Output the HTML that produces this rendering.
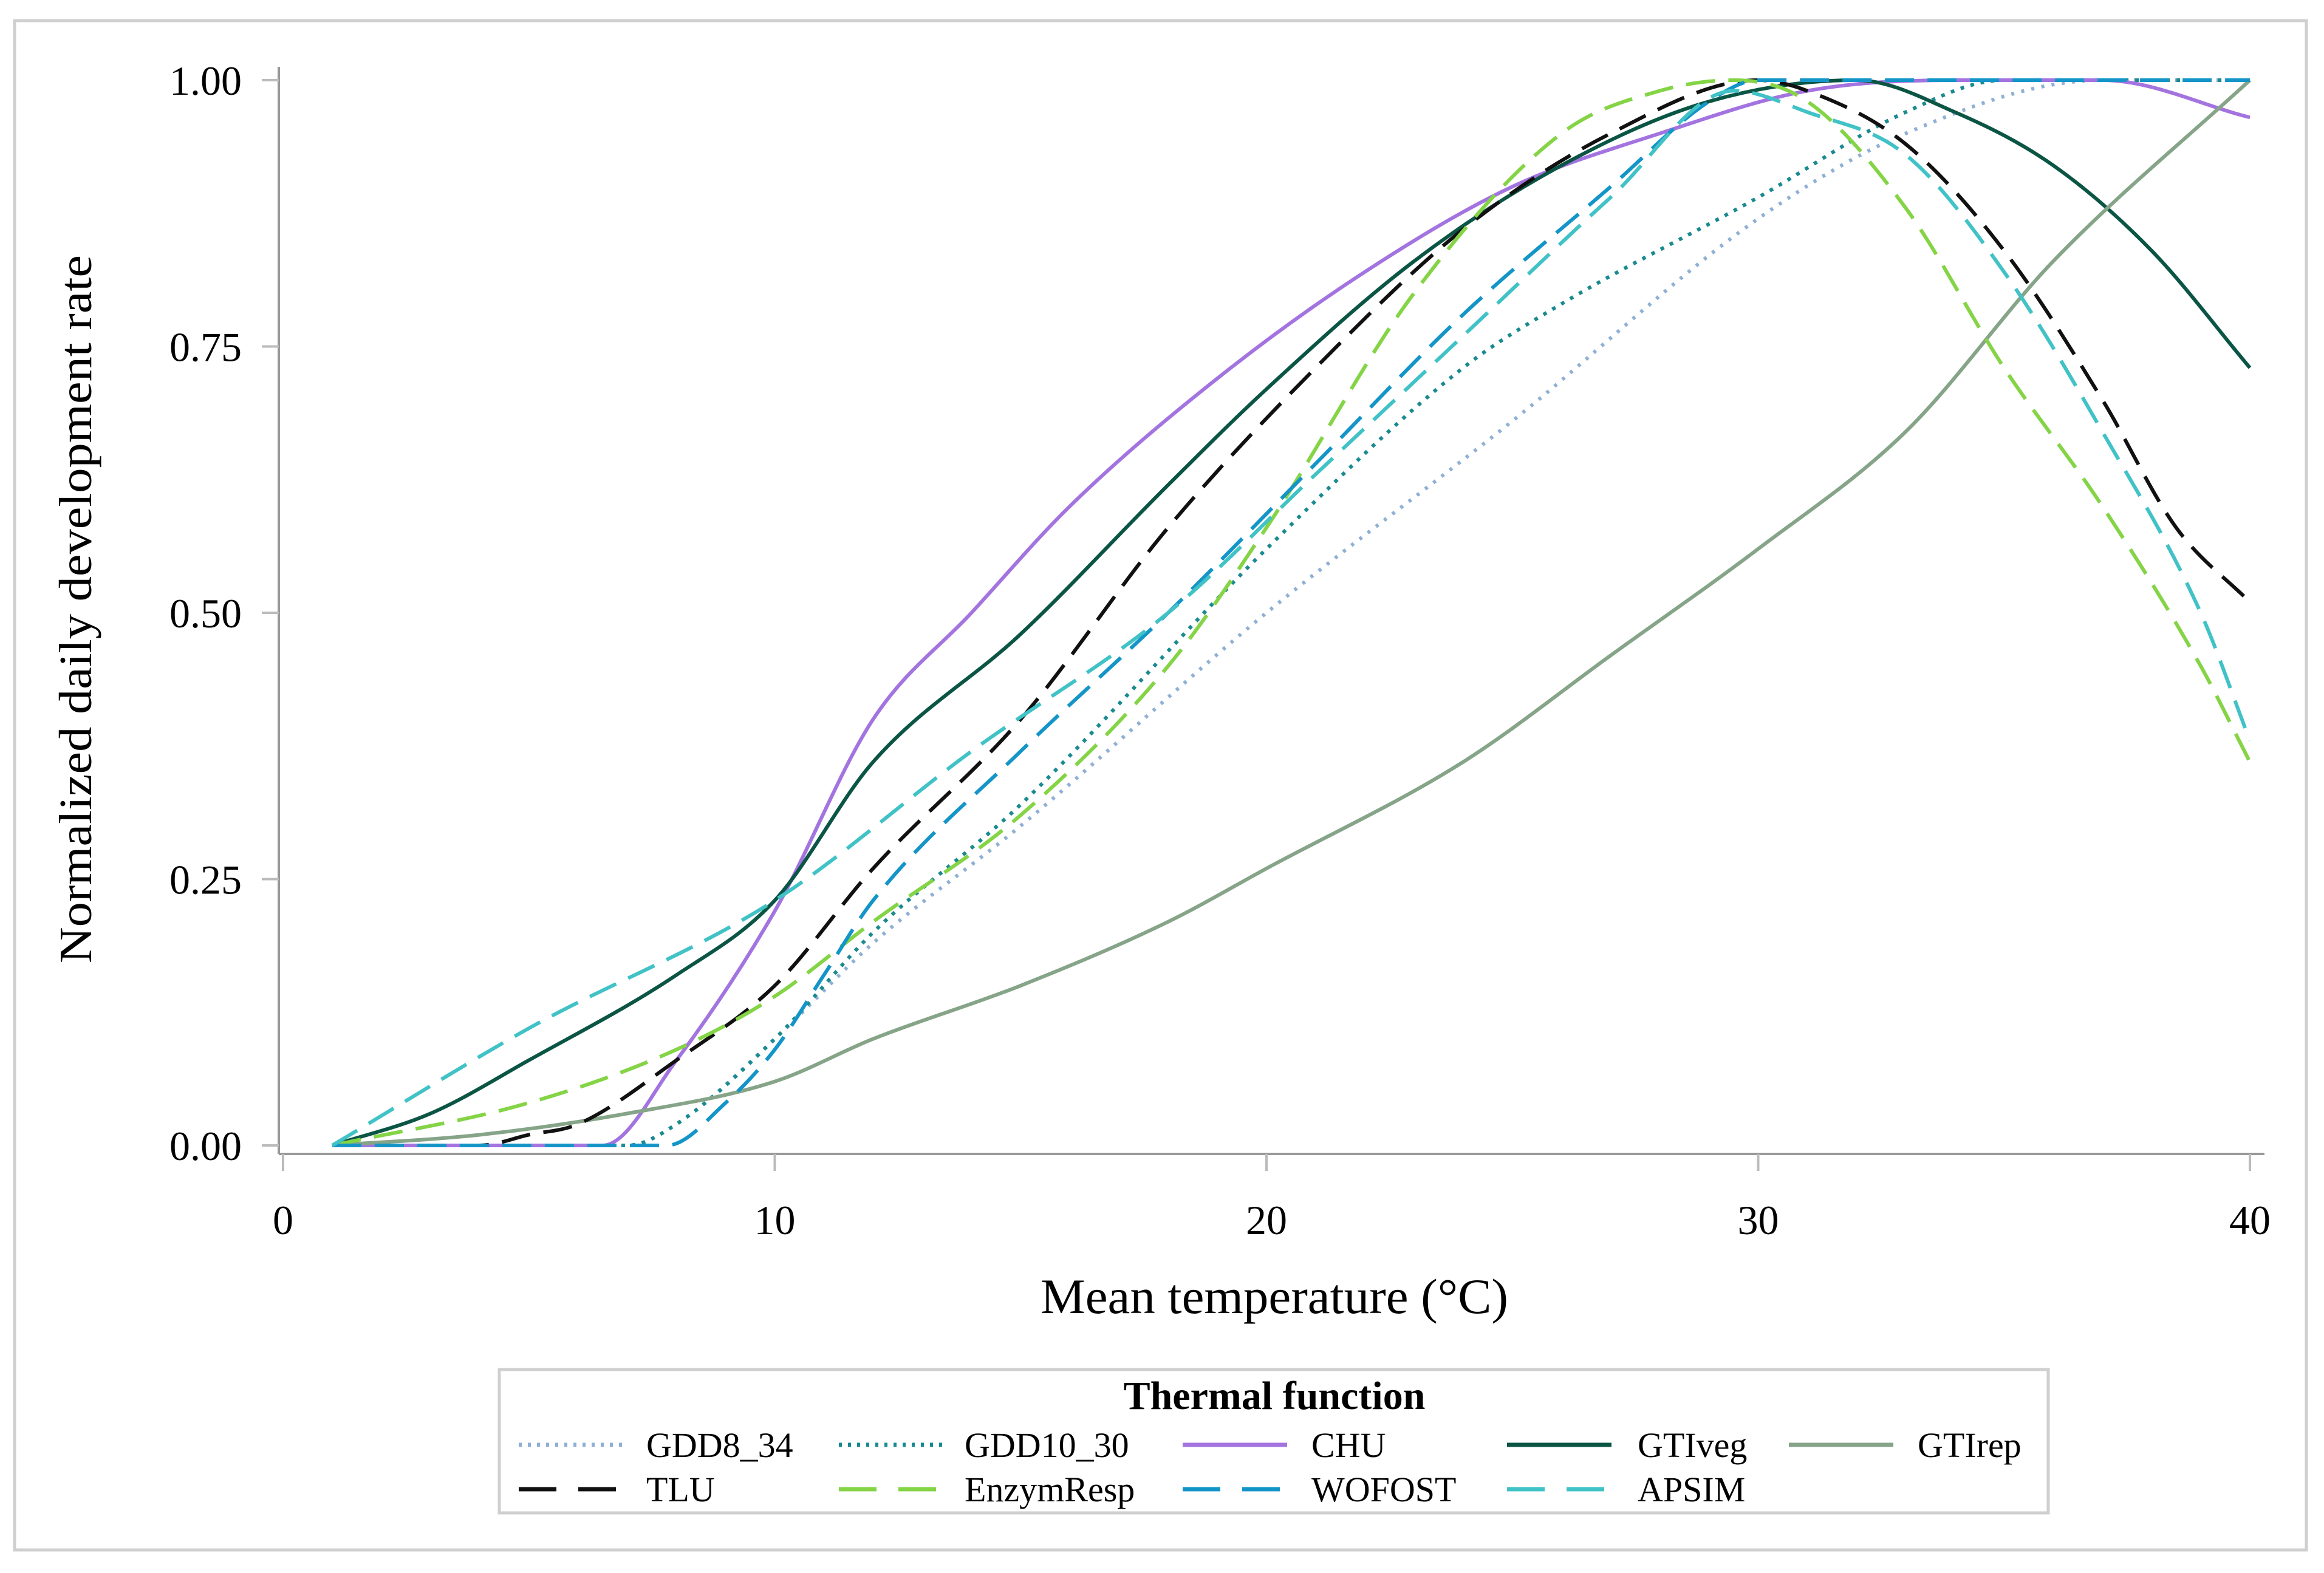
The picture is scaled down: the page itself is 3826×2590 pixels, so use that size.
<!DOCTYPE html>
<html><head><meta charset="utf-8"><style>
html,body{margin:0;padding:0;background:#fff;}
svg{display:block;font-family:"Liberation Serif",serif;}
</style></head><body>
<svg id="chart" width="3826" height="2590" viewBox="0 0 3826 2590" xmlns="http://www.w3.org/2000/svg">
<rect x="24" y="34" width="3773" height="2518" fill="#fff" stroke="#cfcfcf" stroke-width="5"/>
<g id="axes"></g>
<g id="series"></g>
<text x="2098" y="2162" font-size="82" text-anchor="middle" textLength="770" lengthAdjust="spacingAndGlyphs">Mean temperature (°C)</text>
<text transform="translate(150,1003) rotate(-90)" font-size="76" text-anchor="middle" textLength="1166" lengthAdjust="spacingAndGlyphs">Normalized daily development rate</text>
<g id="legend">
<rect x="822" y="2255" width="2550" height="236" fill="#fff" stroke="#cfcfcf" stroke-width="5"/>
<text x="2098" y="2320" font-size="66" font-weight="bold" text-anchor="middle">Thermal function</text>
</g>
</svg>
<script>
const xTicks = [0, 10, 20, 30, 40];
const yTicks = [0, 0.25, 0.5, 0.75, 1.0];
const yTickLabels = ["0.00", "0.25", "0.50", "0.75", "1.00"];
const seriesNames = ["GDD8_34","GDD10_30","CHU","GTIveg","GTIrep","TLU","EnzymResp","WOFOST","APSIM"];
const tGDD8 = [1,7,8,10,12,15,20,25,30,33,37,40];
const vGDD8 = [0,0,0.02,0.1,0.19,0.3,0.5,0.68,0.87,0.95,1.0,1.0];
const tGDD10 = [1,7,8,10,12,15,20,24,26,30,33,35,40];
const vGDD10 = [0,0,0.02,0.1,0.2,0.32,0.56,0.73,0.79,0.89,0.97,1.0,1.0];
const tCHU = [1,6.5,8,10,12,14,16,19,22,25,28,31,34,37,40];
const vCHU = [0,0,0.08,0.22,0.4,0.5,0.6,0.72,0.82,0.9,0.95,0.99,1.0,1.0,0.965];
const tGTIveg = [1,3,5,8,10,12,15,18,20,23,26,29,32,34,36,38,40];
const vGTIveg = [0,0.03,0.08,0.16,0.23,0.36,0.48,0.62,0.71,0.83,0.92,0.98,1.0,0.97,0.92,0.84,0.73];
const tGTIrep = [1,4,7,10,12,15,18,20,24,27,30,33,36,40];
const vGTIrep = [0,0.01,0.03,0.06,0.1,0.15,0.21,0.26,0.36,0.46,0.56,0.67,0.83,1.0];
const tTLU = [1,4,5,6,8,10,12,15,18,21,24,27,30,31,33,35,37,38.5,40];
const vTLU = [0,0,0.01,0.02,0.08,0.15,0.26,0.4,0.58,0.73,0.86,0.95,1.0,0.99,0.94,0.84,0.7,0.58,0.51];
const tEnzym = [1,5,8,10,12,15,18,20,23,26,28,29.5,31,33,35,37,39,40];
const vEnzym = [0,0.04,0.09,0.14,0.21,0.31,0.45,0.58,0.8,0.95,0.99,1.0,0.98,0.88,0.73,0.6,0.45,0.36];
const tWOFOST = [1,7.8,9,10,11,12,15,18,21,24,27,29,30,40];
const vWOFOST = [0,0,0.04,0.09,0.16,0.23,0.37,0.5,0.64,0.78,0.9,0.98,1.0,1.0];
const tAPSIM = [1,5,10,14,18,21,24,27,29.5,31,33,35,37,39,40];
const vAPSIM = [0,0.11,0.23,0.37,0.5,0.63,0.76,0.89,0.99,0.97,0.93,0.82,0.67,0.5,0.38];

const NS = "http://www.w3.org/2000/svg";
const X0 = 466, X1 = 3704, Y0 = 1886, Y1 = 132;
function xs(t){ return X0 + (t - 0) / 40 * (X1 - X0); }
function ys(v){ return Y0 - v * (Y0 - Y1); }
function mk(tag, attrs, parent){ const e = document.createElementNS(NS, tag); for (const k in attrs) e.setAttribute(k, attrs[k]); parent.appendChild(e); return e; }

const axes = document.getElementById('axes');
const yl = mk('line', {x1:459, y1:110, x2:459, y2:1900, stroke:'#999', 'stroke-width':4}, axes);


const xl = mk('line', {x1:459, y1:1900, x2:3728, y2:1900, stroke:'#999', 'stroke-width':4}, axes);


xTicks.forEach(function(t){
  const tk = mk('line', {x1:xs(t), y1:1900, x2:xs(t), y2:1928, stroke:'#bbb', 'stroke-width':4}, axes);
  
  
  const tx = mk('text', {x:xs(t), y:2032, 'font-size':68, 'text-anchor':'middle'}, axes);
  tx.textContent = String(t);
  
  
});
yTicks.forEach(function(v, i){
  const tk = mk('line', {x1:431, y1:ys(v), x2:459, y2:ys(v), stroke:'#bbb', 'stroke-width':4}, axes);
  
  
  const tx = mk('text', {x:398, y:ys(v) + 24, 'font-size':68, 'text-anchor':'end'}, axes);
  tx.textContent = yTickLabels[i];
  
  
});

const styles = [
  {t:tGDD8, v:vGDD8, c:'#8fb0d4', d:'5 12', key:'gdd8-34'},
  {t:tGDD10, v:vGDD10, c:'#1a8a90', d:'6 11', key:'gdd10-30'},
  {t:tCHU, v:vCHU, c:'#a374e0', d:'', key:'chu'},
  {t:tGTIveg, v:vGTIveg, c:'#0b5545', d:'', key:'gtiveg'},
  {t:tGTIrep, v:vGTIrep, c:'#86a488', d:'', key:'gtirep'},
  {t:tTLU, v:vTLU, c:'#111', d:'48 22', key:'tlu'},
  {t:tEnzym, v:vEnzym, c:'#84d446', d:'48 22', key:'enzymresp'},
  {t:tWOFOST, v:vWOFOST, c:'#1495c8', d:'48 22', key:'wofost'},
  {t:tAPSIM, v:vAPSIM, c:'#40c2c6', d:'48 22', key:'apsim'}
];
// monotone cubic (Fritsch-Carlson) to avoid overshoot
function smoothPath(t, v){
  const n = t.length;
  const px = t.map(xs), py = v.map(ys);
  const dl = [], m = new Array(n);
  for (let i = 0; i < n - 1; i++) dl.push((py[i+1]-py[i])/(px[i+1]-px[i]));
  m[0] = dl[0]; m[n-1] = dl[n-2];
  for (let i = 1; i < n - 1; i++){
    if (dl[i-1] * dl[i] <= 0) m[i] = 0;
    else m[i] = (dl[i-1] + dl[i]) / 2;
  }
  for (let i = 0; i < n - 1; i++){
    if (dl[i] === 0){ m[i] = 0; m[i+1] = 0; continue; }
    const a = m[i]/dl[i], b = m[i+1]/dl[i], s = a*a + b*b;
    if (s > 9){ const tau = 3/Math.sqrt(s); m[i] = tau*a*dl[i]; m[i+1] = tau*b*dl[i]; }
  }
  let d = 'M' + px[0] + ',' + py[0];
  for (let i = 0; i < n - 1; i++){
    const h = (px[i+1]-px[i])/3;
    d += ' C' + (px[i]+h) + ',' + (py[i]+m[i]*h) + ' ' + (px[i+1]-h) + ',' + (py[i+1]-m[i+1]*h) + ' ' + px[i+1] + ',' + py[i+1];
  }
  return d;
}
const sg = document.getElementById('series');
styles.forEach(function(s){
  const attrs = {d:smoothPath(s.t, s.v), fill:'none', stroke:s.c, 'stroke-width':6};
  if (s.d) attrs['stroke-dasharray'] = s.d;
  const p = mk('path', attrs, sg);
  
  
});

const lg = document.getElementById('legend');
const colLine = [854, 1381, 1947, 2481, 2945];
const colText = [1064, 1588, 2159, 2696, 3157];
const rowY = [2379, 2452];
styles.forEach(function(s, i){
  const r = i < 5 ? 0 : 1, c = i < 5 ? i : i - 5;
  const la = {x1:colLine[c], y1:rowY[r], x2:colLine[c] + 172, y2:rowY[r], stroke:s.c, 'stroke-width':7};
  if (s.d) la['stroke-dasharray'] = s.d.indexOf('48') === 0 ? '62 36' : '5 10';
  const l = mk('line', la, lg);
  
  
  const tx = mk('text', {x:colText[c], y:rowY[r] + 20, 'font-size':58}, lg);
  tx.textContent = seriesNames[i];
  
  
});
</script>
</body></html>
